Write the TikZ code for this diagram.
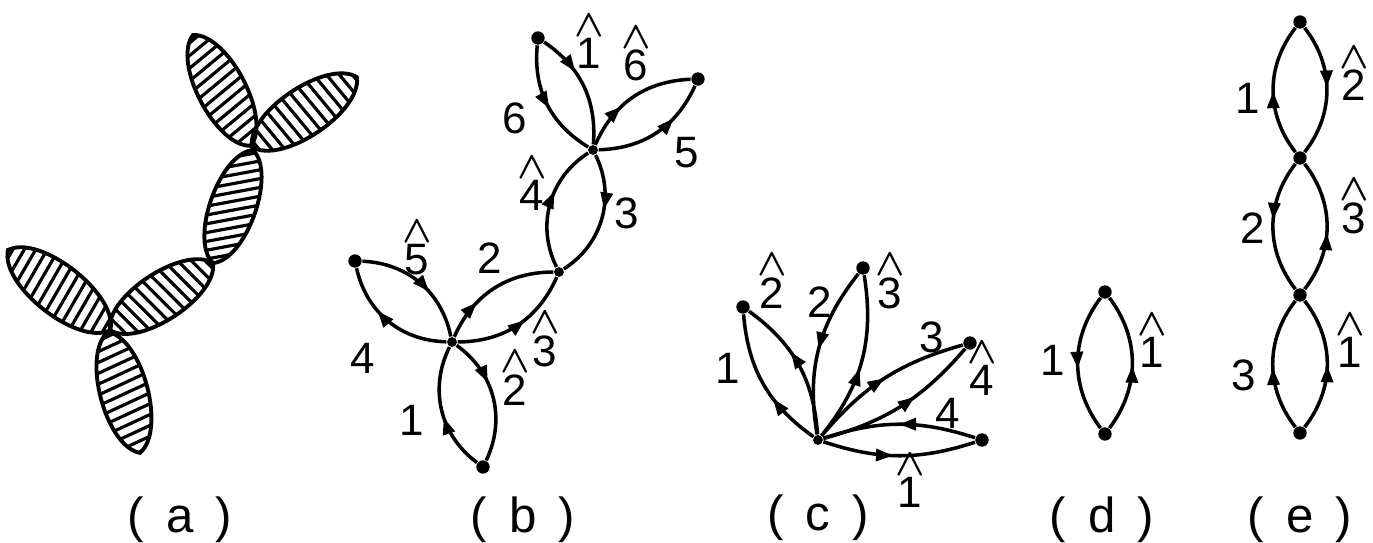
\documentclass[tikz,border=0pt]{standalone}
\usepackage{fontspec}
\setmainfont{Liberation Sans}
\usetikzlibrary{arrows.meta, decorations.markings}
\newcommand{\hatnum}[1]{{\renewcommand{\arraystretch}{0.7}%
  \begin{tabular}{@{}c@{}}{\fontsize{11}{12}\selectfont\boldmath$\wedge$}\\[-2.5pt]#1\end{tabular}}}
\newcommand{\figcap}[1]{(\hspace{0.45em}#1\hspace{0.45em})}

\begin{document}
\begin{tikzpicture}[x=0.01cm, y=0.01cm,
  every node/.style={font=\fontsize{12.5}{14}\selectfont, inner sep=0pt},
  dot/.style={circle, fill, minimum size=3.8pt},
  jn/.style={circle, fill, minimum size=2.8pt},
  edgeline/.style={line width=1pt},
  midarrow/.style={postaction={decorate, decoration={markings,
      mark=at position #1 with {\arrow{Triangle[length=4.8pt, width=3.4pt]}}}}},
  midarrow/.default=0.5,
  petal/.style={line width=1.1pt},
  hatch/.style={line width=0.9pt},
  caption/.style={font=\fontsize{14}{16}\selectfont}]

\useasboundingbox (0,0) rectangle (1373,543);

% (a) hatched petals: start x/y, axis angle, length, hatch angle
\foreach \ax/\ay/\ang/\len/\rel in {193/508/-62.4/125/102, 252/396/33.7/126/-84,
    253/393/-109.5/120/120, 213/280/-146.9/123/102, 8/293/-38.1/130/98,
    108/211/-75.2/125/100} {
  \begin{scope}[shift={(\ax,\ay)}, rotate=\ang]
    \begin{scope}
      \clip (0,0) to[out=65,in=115,looseness=0.72] (\len,0)
        to[out=-115,in=-65,looseness=0.72] (0,0) -- cycle;
      \foreach \t in {-6,4,...,\len}
        \draw[hatch] (\t,0) ++(\rel:-40) -- ++(\rel:80);
    \end{scope}
    \draw[petal] (0,0) to[out=65,in=115,looseness=0.72] (\len,0)
      to[out=-115,in=-65,looseness=0.72] (0,0) -- cycle;
  \end{scope}
}

% (b)
\node[dot] (bTL) at (538,505) {};
\node[dot] (bR) at (698,464) {};
\node[jn] (bU) at (593,393) {};
\node[jn] (bM) at (559,271) {};
\node[dot] (bL) at (355,282) {};
\node[jn] (bC) at (452,201) {};
\node[dot] (bB) at (483,76) {};

\draw[edgeline, midarrow=0.54] (bTL) to[bend right=32] (bU);
\draw[edgeline, midarrow=0.36] (bTL) to[bend left=30] (bU);
\draw[edgeline, midarrow=0.38] (bU) to[bend left=32] (bR);
\draw[edgeline, midarrow=0.68] (bU) to[bend right=32] (bR);
\draw[edgeline, midarrow=0.6] (bM) to[bend left=42] (bU);
\draw[edgeline, midarrow=0.43] (bU) to[bend left=42] (bM);
\draw[edgeline, midarrow=0.6] (bL) to[bend left=38] (bC);
\draw[edgeline, midarrow=0.62] (bC) to[bend left=38] (bL);
\draw[edgeline, midarrow=0.33] (bC) to[bend left=33] (bM);
\draw[edgeline, midarrow=0.57] (bC) to[bend right=33] (bM);
\draw[edgeline, midarrow=0.38] (bC) to[bend left=40] (bB);
\draw[edgeline, midarrow=0.44] (bB) to[bend left=40] (bC);

\node (bh1) at (589,497) {\hatnum{1}};
\node (bh6) at (636,485) {\hatnum{6}};
\node (b6) at (515,425) {6};
\node (b5) at (687,390) {5};
\node (bh4) at (532,355) {\hatnum{4}};
\node (b3) at (627,330) {3};
\node (bh5) at (417,291) {\hatnum{5}};
\node (b2) at (490,285) {2};
\node (b4) at (363,185) {4};
\node (bh3) at (545,200) {\hatnum{3}};
\node (bh2) at (515,161) {\hatnum{2}};
\node (b1) at (412,123) {1};

% (c)
\node[jn] (cO) at (818,103) {};
\node[dot] (cA) at (743,236) {};
\node[dot] (cB) at (863,275) {};
\node[dot] (cD) at (970,200) {};
\node[dot] (cE) at (982,103) {};

\draw[edgeline, midarrow=0.38] (cO) to[bend left=25] (cA);
\draw[edgeline, midarrow=0.6] (cO) to[bend right=25] (cA);
\draw[edgeline, midarrow=0.5] (cB) to[bend right=24] (cO);
\draw[edgeline, midarrow=0.45] (cO) to[bend right=24] (cB);
\draw[edgeline, midarrow=0.5] (cO) to[bend left=17] (cD);
\draw[edgeline, midarrow=0.59] (cO) to[bend right=17] (cD);
\draw[edgeline, midarrow=0.5] (cE) to[bend right=18] (cO);
\draw[edgeline, midarrow=0.46] (cO) to[bend right=18] (cE);

\node (ch2) at (772,258) {\hatnum{2}};
\node (c2) at (820,241) {2};
\node (ch3) at (890,258) {\hatnum{3}};
\node (c1) at (728,175) {1};
\node (c3) at (932,206) {3};
\node (ch4) at (982,170) {\hatnum{4}};
\node (c4) at (948,130) {4};
\node (ch1) at (910,58) {\hatnum{1}};

% (d)
\node[dot] (dT) at (1105,251) {};
\node[dot] (dB) at (1105,109) {};
\draw[edgeline, midarrow=0.54] (dT) to[bend right=37] (dB);
\draw[edgeline, midarrow=0.48] (dB) to[bend right=37] (dT);
\node (d1) at (1053,183) {1};
\node (dh1) at (1152,198) {\hatnum{1}};

% (e)
\node[dot] (eT) at (1300,521) {};
\node[dot] (eU) at (1300,385) {};
\node[dot] (eV) at (1300,248) {};
\node[dot] (eW) at (1300,110) {};
\draw[edgeline, midarrow=0.49] (eU) to[bend left=38] (eT);
\draw[edgeline, midarrow=0.48] (eT) to[bend left=38] (eU);
\draw[edgeline, midarrow=0.45] (eU) to[bend right=38] (eV);
\draw[edgeline, midarrow=0.45] (eV) to[bend right=38] (eU);
\draw[edgeline, midarrow=0.47] (eW) to[bend left=38] (eV);
\draw[edgeline, midarrow=0.49] (eW) to[bend right=38] (eV);
\node (e1) at (1248,445) {1};
\node (eh2) at (1354,465) {\hatnum{2}};
\node (e2) at (1253,315) {2};
\node (eh3) at (1354,333) {\hatnum{3}};
\node (e3) at (1244,168) {3};
\node (eh1) at (1350,198) {\hatnum{1}};

% captions
\node[caption] (capa) at (180,23) {\figcap{a}};
\node[caption] (capb) at (523,23) {\figcap{b}};
\node[caption] (capc) at (818,25) {\figcap{c}};
\node[caption] (capd) at (1102,23) {\figcap{d}};
\node[caption] (cape) at (1300,23) {\figcap{e}};

\end{tikzpicture}
\end{document}
